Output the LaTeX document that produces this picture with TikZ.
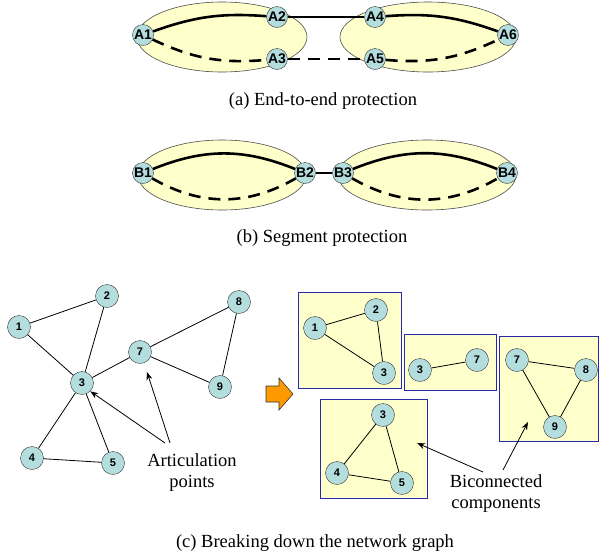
\documentclass[tikz,border=0pt]{standalone}
\usepackage{fontspec}
\setmainfont{Liberation Serif}
\setsansfont{Liberation Sans}
\usetikzlibrary{arrows.meta}
\definecolor{nodecyan}{RGB}{180,221,222}
\definecolor{paleyellow}{RGB}{255,255,204}
\definecolor{boxblue}{RGB}{40,40,170}
\definecolor{bigorange}{RGB}{255,153,0}
\tikzset{
	anode/.style={circle,draw=black!80,fill=nodecyan,inner sep=0pt,minimum size=21pt,font=\sffamily\bfseries\fontsize{14}{14}\selectfont},
	cnode/.style={circle,draw=black!80,fill=nodecyan,inner sep=0pt,minimum size=23pt,font=\sffamily\bfseries\fontsize{11}{11}\selectfont},
	region/.style={draw=black!70,fill=paleyellow,line width=0.6pt},
	compbox/.style={draw=boxblue,fill=paleyellow,line width=1pt},
	work/.style={line width=2.6pt},
	backup/.style={line width=2.6pt,dash pattern=on 12pt off 8pt},
	link/.style={line width=0.8pt},
	pointer/.style={line width=0.8pt,-{Stealth[length=8pt,width=6pt]}},
	caption/.style={font=\fontsize{18.5}{21}\selectfont,align=center}
}
\begin{document}
\begin{tikzpicture}[x=1pt,y=-1pt]
		\useasboundingbox(0,0) rectangle (599,558);
		% (a) end-to-end
		\draw[region](222,37) ellipse [x radius=85pt,y radius=35pt];
		\draw[region](428,37) ellipse [x radius=88pt,y radius=35pt];
		\node(a1) at(143,35)[anode]{A1};
		\node(a2) at(277,17)[anode]{A2};
		\node(a3) at(277,59)[anode]{A3};
		\node(a4) at(375,17)[anode]{A4};
		\node(a5) at(375,59)[anode]{A5};
		\node(a6) at(508,35)[anode]{A6};
		\draw[work](a1) to[bend left=12] (a2);
		\draw[line width=1.8pt](a2)--(a4);
		\draw[work](a4) to[bend left=12] (a6);
		\draw[backup](a1) to[bend right=15] (a3);
		\draw[backup](a3)--(a5);
		\draw[backup](a5) to[bend right=15] (a6);
		\node(capa) at(323,101)[caption]{(a) End-to-end protection};
		% (b) segment
		\draw[region](222,175) ellipse [x radius=84pt,y radius=35pt];
		\draw[region](427,175) ellipse [x radius=89pt,y radius=35pt];
		\node(b1) at(143,173)[anode]{B1};
		\node(b2) at(305,173)[anode]{B2};
		\node(b3) at(343,173)[anode]{B3};
		\node(b4) at(507,173)[anode]{B4};
		\draw[work](b1) to[bend left=22] (b2);
		\draw[backup](b1) to[bend right=30] (b2);
		\draw[work](b2)--(b3);
		\draw[work](b3) to[bend left=22] (b4);
		\draw[backup](b3) to[bend right=30] (b4);
		\node(capb) at(322,238)[caption]{(b) Segment protection};
		% (c) network graph
		\node(n1) at(19,327)[cnode]{1};
		\node(n2) at(107,296)[cnode]{2};
		\node(n3) at(82,383)[cnode]{3};
		\node(n7) at(140,352)[cnode]{7};
		\node(n8) at(239,302)[cnode]{8};
		\node(n9) at(220,387)[cnode]{9};
		\node(n4) at(32,458)[cnode]{4};
		\node(n5) at(113,463)[cnode]{5};
		\draw[link](n1)--(n2) (n1)--(n3) (n2)--(n3) (n3)--(n7) (n7)--(n8)
			(n7)--(n9) (n8)--(n9) (n3)--(n4) (n3)--(n5) (n4)--(n5);
		\node(artic) at(192,473)[caption]{Articulation\\points};
		\coordinate(artA) at(165,443);
		\coordinate(artB) at(170,443);
		\coordinate(tip7) at(147,372);
		\draw[pointer](artA)--(n3.south east);
		\draw[pointer](artB)--(tip7);
		% big arrow
		\draw[draw=black!80,fill=bigorange,line width=0.6pt](266,386)--(279,386)--(279,378)--(293,394)
			--(279,410)--(279,402)--(266,402)--cycle;
		% components
		\draw[compbox](298,292) rectangle (401,388);
		\draw[compbox](404,334) rectangle (496,390);
		\draw[compbox](499,336) rectangle (598,441);
		\draw[compbox](320,399) rectangle (427,498);
		\node(r1) at(315,328)[cnode]{1};
		\node(r2) at(376,310)[cnode]{2};
		\node(r3) at(384,373)[cnode]{3};
		\node(s3) at(420,370)[cnode]{3};
		\node(s7) at(477,360)[cnode]{7};
		\node(t7) at(517,360)[cnode]{7};
		\node(t8) at(586,370)[cnode]{8};
		\node(t9) at(555,427)[cnode]{9};
		\node(u3) at(383,415)[cnode]{3};
		\node(u4) at(337,473)[cnode]{4};
		\node(u5) at(402,483)[cnode]{5};
		\draw[link](r1)--(r2) (r2)--(r3) (r1)--(r3) (s3)--(s7) (t7)--(t8) (t8)--(t9) (t7)--(t9)
			(u3)--(u4) (u3)--(u5) (u4)--(u5);
		\node(bicon) at(496,494)[caption]{Biconnected\\components};
		\coordinate(bicA) at(483,472);
		\coordinate(bicB) at(503,470);
		\coordinate(inbox4) at(417,443);
		\coordinate(inbox3) at(528,422);
		\draw[pointer](bicA)--(inbox4);
		\draw[pointer](bicB)--(inbox3);
		\node(capc) at(315,543)[caption]{(c) Breaking down the network graph};
	\end{tikzpicture}
\end{document}
